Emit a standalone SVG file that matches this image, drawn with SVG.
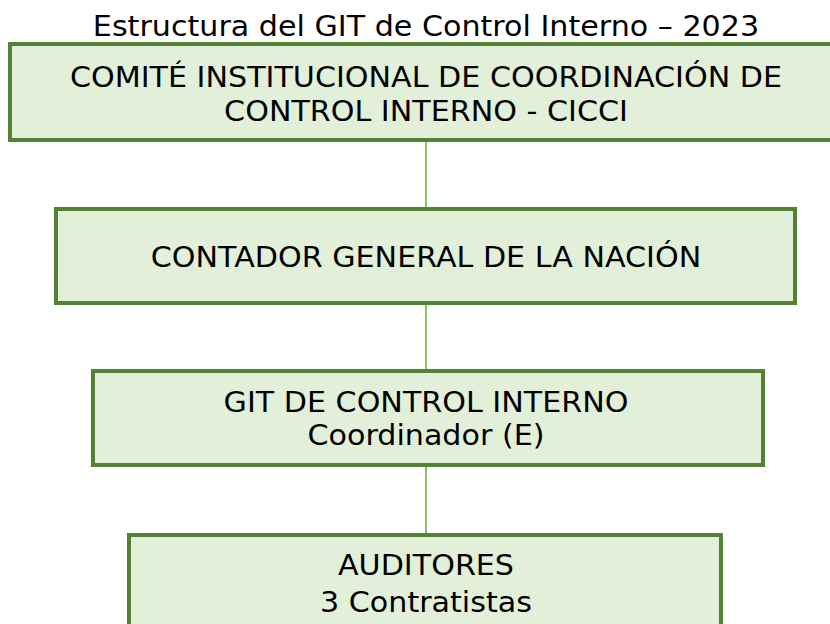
<svg xmlns="http://www.w3.org/2000/svg" width="830" height="624" viewBox="0 0 830 624">
<style>
.box{fill:#e2efd9;stroke:#548235;stroke-width:4}
.t{font-family:"DejaVu Sans",Verdana,sans-serif;font-size:28px;fill:#000;text-anchor:middle}
.c{stroke:#8cc26a;stroke-width:2;fill:none}
</style>
<rect width="830" height="624" fill="#fff"/>
<g transform="translate(426,0) scale(1.077,1) translate(-426,0)">
<text class="t" x="426" y="36">Estructura del GIT de Control Interno – 2023</text>
</g>
<g id="connectors">
<line class="c" x1="426" y1="142" x2="426" y2="208"/>
<line class="c" x1="426" y1="304" x2="426" y2="370"/>
<line class="c" x1="426" y1="465" x2="426" y2="533"/>
</g>
<g id="n1">
<rect class="box" x="10" y="44" width="822" height="96"/>
<g transform="translate(426,0) scale(1.077,1) translate(-426,0)">
<text class="t" x="426" y="87">COMITÉ INSTITUCIONAL DE COORDINACIÓN DE</text>
<text class="t" x="426" y="121">CONTROL INTERNO - CICCI</text>
</g>
</g>
<g id="n2">
<rect class="box" x="56" y="209" width="739" height="94"/>
<g transform="translate(426,0) scale(1.077,1) translate(-426,0)">
<text class="t" x="426" y="267">CONTADOR GENERAL DE LA NACIÓN</text>
</g>
</g>
<g id="n3">
<rect class="box" x="93" y="371" width="670" height="94"/>
<g transform="translate(426,0) scale(1.077,1) translate(-426,0)">
<text class="t" x="426" y="412">GIT DE CONTROL INTERNO</text>
<text class="t" x="426" y="445">Coordinador (E)</text>
</g>
</g>
<g id="n4">
<rect class="box" x="129" y="535" width="592" height="100"/>
<g transform="translate(426,0) scale(1.077,1) translate(-426,0)">
<text class="t" x="426" y="575">AUDITORES</text>
<text class="t" x="426" y="612">3 Contratistas</text>
</g>
</g>
</svg>
